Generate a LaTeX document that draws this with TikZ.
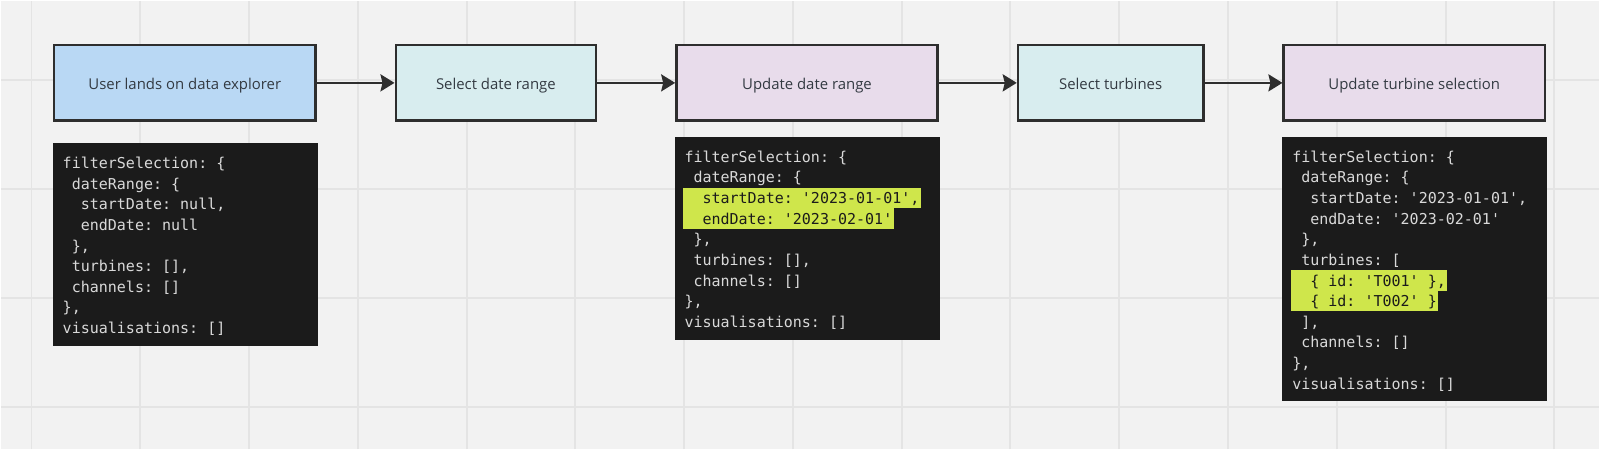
\documentclass[tikz,border=0pt]{standalone}
\usepackage{fontspec}
\setsansfont{Open Sans}
\setmonofont{DejaVu Sans Mono}
\usetikzlibrary{arrows.meta}

\definecolor{canvas}{HTML}{F2F2F2}
\definecolor{gridgray}{HTML}{E4E4E4}
\definecolor{boxline}{HTML}{2E2E2E}
\definecolor{labeltext}{HTML}{333A42}
\definecolor{landblue}{HTML}{B9D8F4}
\definecolor{selectcyan}{HTML}{D8EDEF}
\definecolor{updatelilac}{HTML}{E8DCEB}
\definecolor{codebg}{HTML}{1B1B1B}
\definecolor{codetext}{HTML}{D9D9D9}
\definecolor{marker}{HTML}{CFE64B}

\newcommand{\ws}{\hphantom{0}}

\begin{document}
\begin{tikzpicture}[
		scale=1,
		stepbox/.style={rectangle, draw=boxline, line width=1.4pt, minimum height=1.51cm,
			text height=0.3cm, text depth=0.026cm,
			font=\sffamily\fontsize{8.5pt}{10pt}\selectfont, text=labeltext},
		codebox/.style={rectangle, fill=codebg, minimum width=5.3cm, inner sep=0pt},
		codeline/.style={rectangle, anchor=west, inner xsep=0.03cm, inner ysep=0pt,
			text height=0.316cm, text depth=0.096cm,
			font=\ttfamily\fontsize{8.55pt}{10pt}\selectfont, text=codetext},
		marked/.style={fill=marker, text=codebg},
		flow/.style={-{Stealth[length=0.28cm, width=0.34cm, inset=0.04cm]}, line width=1.4pt, draw=boxline}
	]
  % canvas and grid
  \fill [canvas] (0cm, 0cm) rectangle (32cm, -8.98cm);
  \begin{scope}[shift={(0.612cm, -1.59cm)}]
    \draw [gridgray, line width=1.1pt, step=2.178cm] (-0.612cm, 1.59cm) grid (31.388cm, -7.39cm);
  \end{scope}

  \node (s1) [stepbox, fill=landblue, minimum width=5.23cm] at (3.68cm, -1.64cm) {User lands on data explorer};
  \node (s2) [stepbox, fill=selectcyan, minimum width=4.01cm] at (9.91cm, -1.64cm) {Select date range};
  \node (s3) [stepbox, fill=updatelilac, minimum width=5.23cm] at (16.14cm, -1.64cm) {Update date range};
  \node (s4) [stepbox, fill=selectcyan, minimum width=3.71cm] at (22.22cm, -1.64cm) {Select turbines};
  \node (s5) [stepbox, fill=updatelilac, minimum width=5.23cm] at (28.30cm, -1.64cm) {Update turbine selection};

  \node (j1) [codebox, minimum height=4.06cm] at (3.69cm, -4.87cm) {};
  \node (j3) [codebox, minimum height=4.06cm] at (16.15cm, -4.75cm) {};
  \node (j5) [codebox, minimum height=5.30cm] at (28.31cm, -5.37cm) {};

  % initial state
  \node (x1) [codeline] at (1.20cm, -3.246cm) {filterSelection: \{};
  \node (x2) [codeline] at (1.20cm, -3.659cm) {\ws dateRange: \{};
  \node (x3) [codeline] at (1.20cm, -4.072cm) {\ws\ws startDate: null,};
  \node (x4) [codeline] at (1.20cm, -4.485cm) {\ws\ws endDate: null};
  \node (x5) [codeline] at (1.20cm, -4.898cm) {\ws\},};
  \node (x6) [codeline] at (1.20cm, -5.311cm) {\ws turbines: [],};
  \node (x7) [codeline] at (1.20cm, -5.724cm) {\ws channels: []};
  \node (x8) [codeline] at (1.20cm, -6.137cm) {\},};
  \node (x9) [codeline] at (1.20cm, -6.550cm) {visualisations: []};

  % after date range
  \node (y1) [codeline] at (13.65cm, -3.120cm) {filterSelection: \{};
  \node (y2) [codeline] at (13.65cm, -3.533cm) {\ws dateRange: \{};
  \node (y3) [codeline, marked] at (13.65cm, -3.946cm) {\ws\ws startDate: '2023-01-01',};
  \node (y4) [codeline, marked] at (13.65cm, -4.359cm) {\ws\ws endDate: '2023-02-01'};
  \node (y5) [codeline] at (13.65cm, -4.772cm) {\ws\},};
  \node (y6) [codeline] at (13.65cm, -5.185cm) {\ws turbines: [],};
  \node (y7) [codeline] at (13.65cm, -5.598cm) {\ws channels: []};
  \node (y8) [codeline] at (13.65cm, -6.011cm) {\},};
  \node (y9) [codeline] at (13.65cm, -6.424cm) {visualisations: []};

  % after turbines
  \node (z1) [codeline] at (25.82cm, -3.120cm) {filterSelection: \{};
  \node (z2) [codeline] at (25.82cm, -3.533cm) {\ws dateRange: \{};
  \node (z3) [codeline] at (25.82cm, -3.946cm) {\ws\ws startDate: '2023-01-01',};
  \node (z4) [codeline] at (25.82cm, -4.359cm) {\ws\ws endDate: '2023-02-01'};
  \node (z5) [codeline] at (25.82cm, -4.772cm) {\ws\},};
  \node (z6) [codeline] at (25.82cm, -5.185cm) {\ws turbines: [};
  \node (z7) [codeline, marked] at (25.82cm, -5.598cm) {\ws\ws\{ id: 'T001' \},};
  \node (z8) [codeline, marked] at (25.82cm, -6.011cm) {\ws\ws\{ id: 'T002' \}};
  \node (z9) [codeline] at (25.82cm, -6.424cm) {\ws],};
  \node (z10) [codeline] at (25.82cm, -6.837cm) {\ws channels: []};
  \node (z11) [codeline] at (25.82cm, -7.250cm) {\},};
  \node (z12) [codeline] at (25.82cm, -7.663cm) {visualisations: []};

  \draw (s1) edge [flow] (s2);
  \draw (s2) edge [flow] (s3);
  \draw (s3) edge [flow] (s4);
  \draw (s4) edge [flow] (s5);
\end{tikzpicture}
\end{document}
